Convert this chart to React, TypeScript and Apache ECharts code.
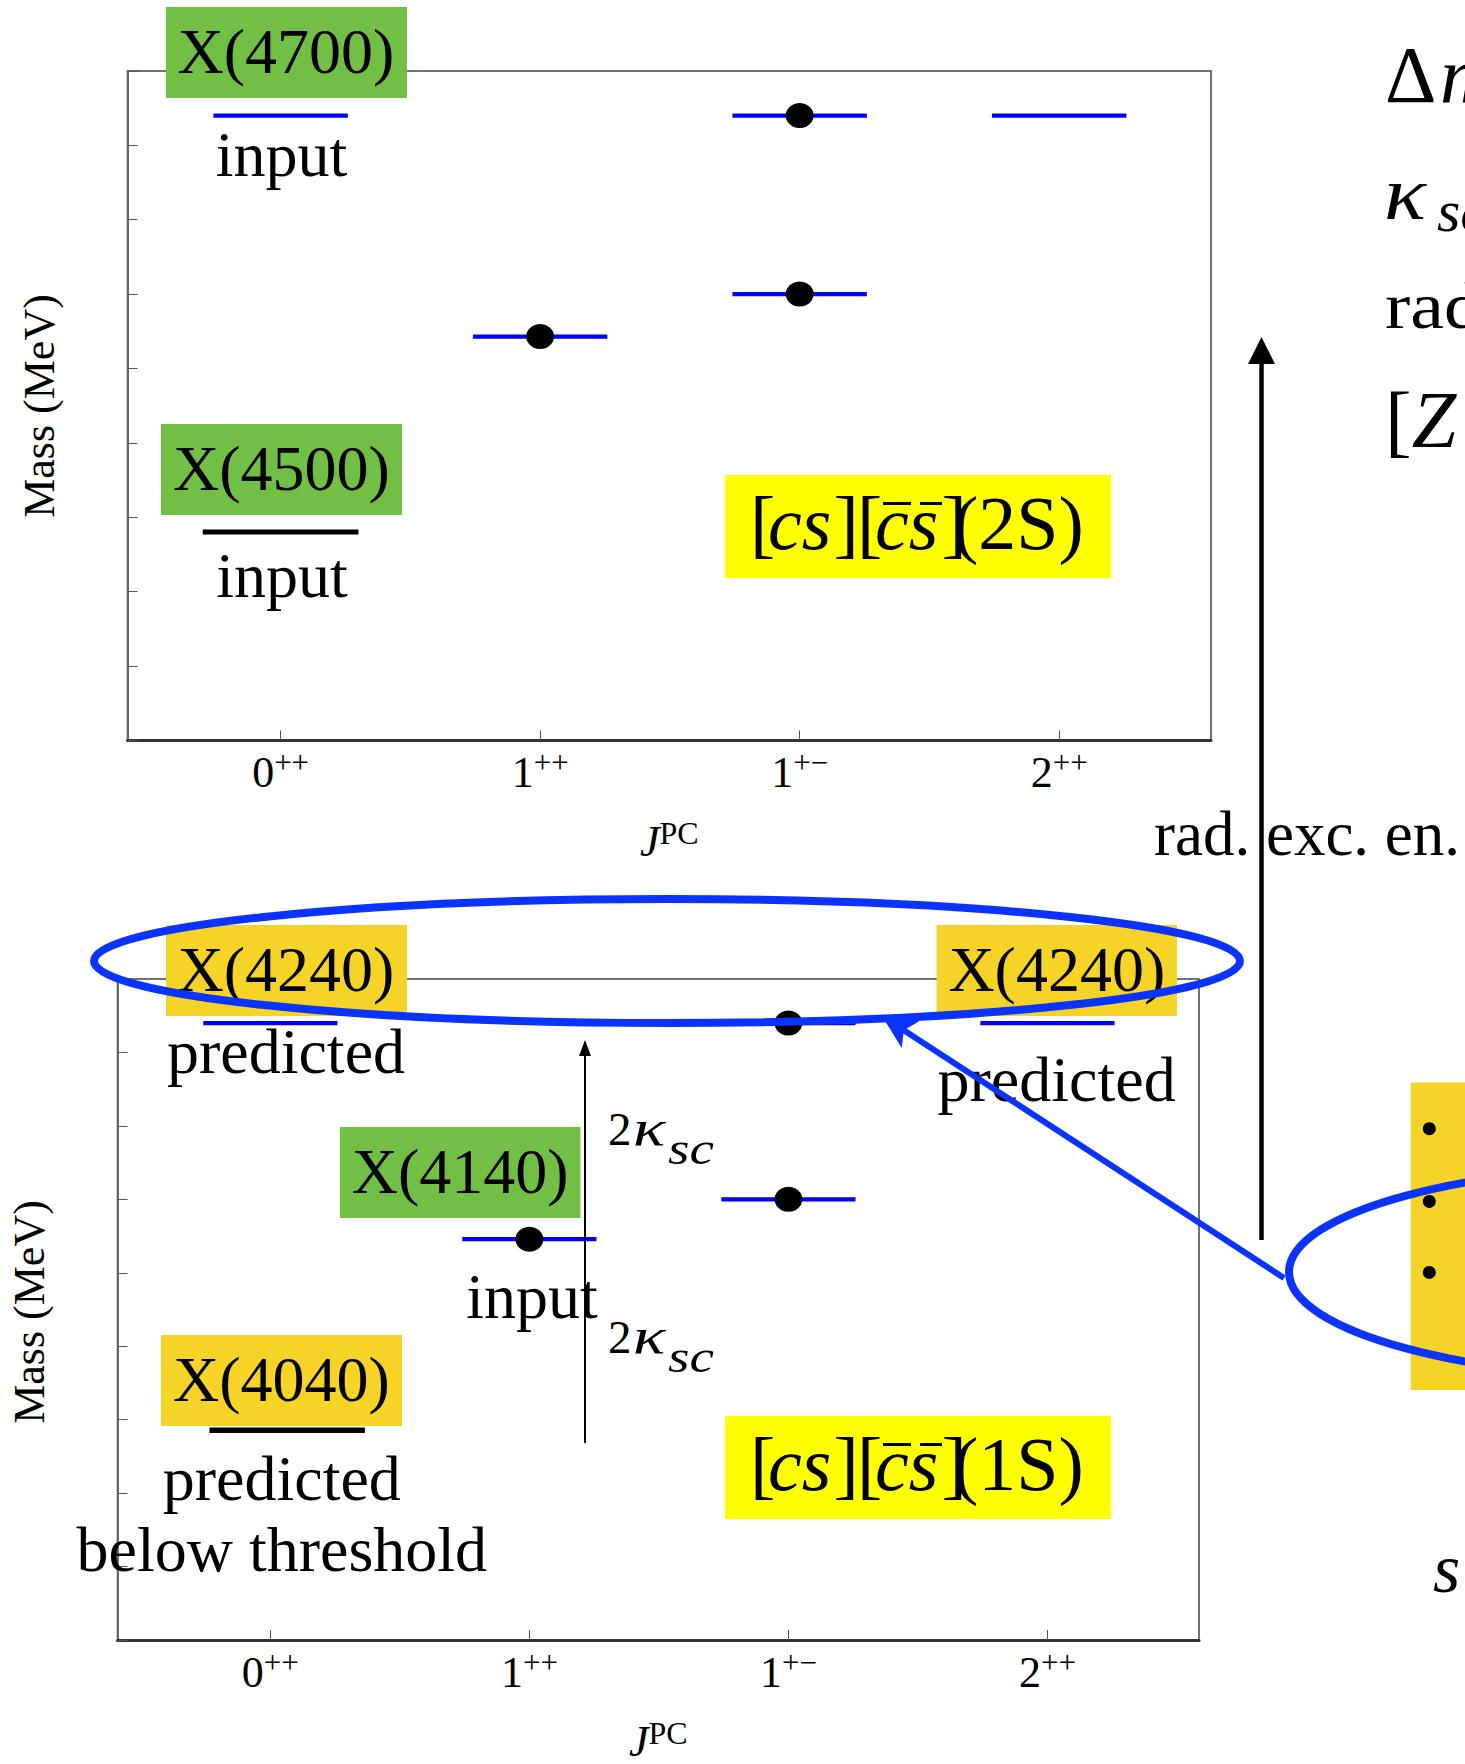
import React, { useEffect, useRef } from 'react';
import * as echarts from 'echarts';

const SERIF = '"Liberation Serif", "Times New Roman", serif';

// J^PC axis
const jpcTicks = [0, 1, 2, 3];
const jpcJ = ['0', '1', '1', '2'];
const jpcPC = ['++', '++', '+−', '++'];

// [cs][cs](2S) panel — masses in MeV
const topBlueX = [0, 1, 2, 2, 3];
const topBlueMass = [4704, 4600, 4704, 4620, 4704];
const topDotX = [1, 2, 2];
const topDotMass = [4600, 4704, 4620];
const topBlackX = [0];
const topBlackMass = [4508];
const topRange = [4410, 4725];

// [cs][cs](1S) panel — masses in MeV
const botBlueX = [0, 1, 2, 2, 3];
const botBlueMass = [4249, 4146, 4249, 4165, 4249];
const botDotX = [1, 2, 2];
const botDotMass = [4146, 4249, 4165];
const botBlackX = [0.065];
const botBlackMass = [4055];
const botRange = [3955, 4270];

const massStep = 35;

const GREEN = '#71BF44';
const GOLD = '#F5D327';
const YELLOW = '#FFFF00';
const LEVEL_BLUE = '#0000FF';
const MARK_BLUE = '#0A33FF';

const txt = (t: string, x: number, baseline: number, size: number, opt: any = {}) => ({
  type: 'text',
  x,
  y: baseline - 0.3375 * size,
  z: opt.z ?? 6,
  rotation: opt.rotation ?? 0,
  scaleX: opt.scaleX ?? 1,
  style: {
    text: t,
    fontSize: size,
    fontFamily: SERIF,
    fontStyle: opt.italic ? 'italic' : 'normal',
    fill: '#000',
    align: opt.align ?? 'center',
    verticalAlign: 'middle',
    rich: opt.rich,
  },
});
const box = (x: number, y: number, w: number, h: number, fill: string) => ({
  type: 'rect',
  shape: { x, y, width: w, height: h },
  style: { fill },
  z: 5,
});
const seg = (x1: number, y1: number, x2: number, y2: number, w: number, color = '#000', z = 7) => ({
  type: 'line',
  shape: { x1, y1, x2, y2 },
  style: { stroke: color, lineWidth: w },
  z,
});

const stateRich = (s: number) => ({
  o: { fontSize: s, fontFamily: SERIF, color: '#000', width: 18 },
  c: { fontSize: s, fontFamily: SERIF, fontStyle: 'italic', color: '#000', width: 65.5 },
  k: { fontSize: s, fontFamily: SERIF, color: '#000', width: 23.5 },
  c2: { fontSize: s, fontFamily: SERIF, fontStyle: 'italic', color: '#000', width: 66.5 },
  k2: { fontSize: s, fontFamily: SERIF, color: '#000', width: 11.5 },
  r: { fontSize: s, fontFamily: SERIF, color: '#000' },
});

const stateLabel = (n: string, dy: number) => {
  const b = 549 + dy;
  const s = 76;
  return [
    box(725, 475 + dy, 386, 103, YELLOW),
    txt(`{o|[}{c|cs}{k|]}{o|[}{c2|cs}{k2|]}{r|(${n}S)}`, 750, b, s, { align: 'left', rich: stateRich(s) }),
    seg(883, 503.5 + dy, 911, 503.5 + dy, 3),
    seg(920, 503.5 + dy, 942, 503.5 + dy, 3),
  ];
};

const kappaLabel = (baseline: number) => [
  txt('2', 608, baseline, 47, { align: 'left' }),
  txt('κ', 633, baseline, 50, { align: 'left', italic: true, scaleX: 1.35 }),
  txt('sc', 668, baseline + 19, 46, { align: 'left', italic: true, scaleX: 1.2 }),
];

const arrowHead = (tipX: number, tipY: number, tailX: number, tailY: number, len: number, half: number, notch: number, color: string, z: number) => {
  const dx = tipX - tailX, dy = tipY - tailY;
  const L = Math.hypot(dx, dy);
  const ux = dx / L, uy = dy / L;
  const nx = -uy, ny = ux;
  const bx = tipX - ux * len, by = tipY - uy * len;
  return {
    type: 'polygon',
    shape: {
      points: [
        [tipX, tipY],
        [bx + nx * half, by + ny * half],
        [tipX - ux * notch, tipY - uy * notch],
        [bx - nx * half, by - ny * half],
      ],
    },
    style: { fill: color },
    z,
  };
};

const levelSeries = (xs: number[], ys: number[], idx: number, color: string, half: number, width: number) => ({
  type: 'custom',
  xAxisIndex: idx,
  yAxisIndex: idx,
  data: xs.map((x, i) => [x, ys[i]]),
  z: 3,
  renderItem: (_p: any, api: any) => {
    const x = api.value(0);
    const y = api.value(1);
    const a = api.coord([x - half, y]);
    const b = api.coord([x + half, y]);
    return {
      type: 'line',
      shape: { x1: a[0], y1: a[1], x2: b[0], y2: b[1] },
      style: { stroke: color, lineWidth: width },
    };
  },
});

const dotSeries = (xs: number[], ys: number[], idx: number) => ({
  type: 'scatter',
  xAxisIndex: idx,
  yAxisIndex: idx,
  data: xs.map((x, i) => [x, ys[i]]),
  symbol: 'circle',
  symbolSize: [28, 25],
  itemStyle: { color: '#000', opacity: 1 },
  z: 4,
});

const xAxisFor = (idx: number) => ({
  type: 'value',
  gridIndex: idx,
  min: -0.59,
  max: 3.585,
  splitLine: { show: false },
  axisLine: { show: true, onZero: false, lineStyle: { color: '#333', width: 3 } },
  axisTick: { show: true, inside: true, length: 10, customValues: jpcTicks, lineStyle: { color: '#555', width: 1 } },
  axisLabel: {
    customValues: jpcTicks,
    margin: 7,
    formatter: (v: number) => {
      const i = jpcTicks.indexOf(Math.round(v));
      return `{n|${jpcJ[i]}}{s|${jpcPC[i]}}`;
    },
    rich: {
      n: { fontSize: 44, fontFamily: SERIF, color: '#000', lineHeight: 50 },
      s: { fontSize: 31, fontFamily: SERIF, color: '#000', verticalAlign: 'top' },
    },
  },
  name: '{j|J}{p|PC}',
  nameLocation: 'middle',
  nameGap: 77,
  nameTextStyle: {
    rich: {
      j: { fontSize: 44, fontFamily: SERIF, fontStyle: 'italic', color: '#000', lineHeight: 48 },
      p: { fontSize: 32, fontFamily: SERIF, color: '#000', verticalAlign: 'top' },
    },
  },
});

const yAxisFor = (idx: number, range: number[]) => ({
  type: 'value',
  gridIndex: idx,
  min: range[0],
  max: range[1],
  interval: massStep,
  splitLine: { show: false },
  axisLabel: { show: false },
  axisLine: { show: true, onZero: false, lineStyle: { color: '#666', width: 2 } },
  axisTick: { show: true, inside: true, length: 10, lineStyle: { color: '#555', width: 1 } },
});

const option: any = {
  animation: false,
  backgroundColor: '#fff',
  grid: [
    { left: 127.5, top: 71, width: 1083.5, height: 669.3, show: true, borderColor: '#444', borderWidth: 1.5 },
    { left: 117.5, top: 979, width: 1081.5, height: 668.7, show: true, borderColor: '#444', borderWidth: 1.5 },
  ],
  xAxis: [xAxisFor(0), xAxisFor(1)],
  yAxis: [yAxisFor(0, topRange), yAxisFor(1, botRange)],
  series: [
    levelSeries(topBlueX, topBlueMass, 0, LEVEL_BLUE, 0.259, 4.3),
    levelSeries(topBlackX, topBlackMass, 0, '#000', 0.3, 5),
    dotSeries(topDotX, topDotMass, 0),
    levelSeries(botBlueX, botBlueMass, 1, LEVEL_BLUE, 0.259, 4.3),
    levelSeries(botBlackX, botBlackMass, 1, '#000', 0.3, 5.5),
    dotSeries(botDotX, botDotMass, 1),
  ],
  graphic: {
    elements: [
      // y-axis titles
      txt('Mass (MeV)', 39, 406 + 0.3375 * 44, 44, { rotation: Math.PI / 2 }),
      txt('Mass (MeV)', 29, 1312 + 0.3375 * 44, 44, { rotation: Math.PI / 2 }),

      // top panel labels
      box(166, 7, 241, 91, GREEN),
      txt('X(4700)', 286, 73, 64),
      txt('input', 281.5, 176, 64),
      box(161, 424, 241, 91, GREEN),
      txt('X(4500)', 281.5, 490, 64),
      txt('input', 282, 597, 64),
      ...stateLabel('2', 0),

      // bottom panel labels
      box(166, 925, 241, 91, GOLD),
      txt('X(4240)', 286, 991, 64),
      txt('predicted', 286, 1073, 64),
      box(936.6, 925, 240.4, 91, GOLD),
      txt('X(4240)', 1056.8, 991, 64),
      txt('predicted', 1056.6, 1101.5, 64),
      box(340, 1127, 240.5, 91, GREEN),
      txt('X(4140)', 460.2, 1193, 64),
      txt('input', 532, 1318, 64),
      box(161, 1335, 241, 91, GOLD),
      txt('X(4040)', 281.5, 1401, 64),
      txt('predicted', 281.8, 1500, 64),
      txt('below threshold', 281.8, 1571, 64),
      ...stateLabel('1', 941),

      // 2 kappa_sc steps
      seg(585, 1054, 585, 1443, 2),
      arrowHead(585, 1040, 585, 1443, 16, 6, 16, '#000', 7),
      ...kappaLabel(1145),
      ...kappaLabel(1353),

      // radial excitation arrow
      seg(1261.5, 360, 1261.5, 1240, 4.5),
      arrowHead(1261.5, 337, 1261.5, 1240, 27, 13.5, 27, '#000', 7),
      txt('rad. exc. en.', 1154, 855, 63, { align: 'left', z: 4 }),

      // right-hand text (cut by the page edge)
      txt('Δ', 1385, 102, 80, { align: 'left' }),
      txt('m', 1440, 102, 80, { align: 'left', italic: true }),
      txt('κ', 1384, 219, 76, { align: 'left', italic: true, scaleX: 1.15 }),
      txt('sc', 1437, 231, 60, { align: 'left', italic: true }),
      txt('rad.', 1385, 328, 66, { align: 'left', scaleX: 1.15 }),
      txt('{a|[}{b|Z}', 1385, 447, 80, {
        align: 'left',
        rich: {
          a: { fontSize: 80, fontFamily: SERIF, color: '#000' },
          b: { fontSize: 80, fontFamily: SERIF, fontStyle: 'italic', color: '#000' },
        },
      }),
      txt('s', 1433, 1592, 70, { align: 'left', italic: true }),

      // right box with bullets
      box(1410.7, 1082.5, 60, 307.5, GOLD),
      { type: 'circle', shape: { cx: 1429.3, cy: 1128.7, r: 6.5 }, style: { fill: '#000' }, z: 6 },
      { type: 'circle', shape: { cx: 1429.3, cy: 1201.4, r: 6.5 }, style: { fill: '#000' }, z: 6 },
      { type: 'circle', shape: { cx: 1429.3, cy: 1272.4, r: 6.5 }, style: { fill: '#000' }, z: 6 },

      // highlight ellipses and pointer
      { type: 'ellipse', shape: { cx: 667, cy: 961, rx: 573, ry: 62 }, style: { fill: 'none', stroke: MARK_BLUE, lineWidth: 8 }, z: 30 },
      { type: 'ellipse', shape: { cx: 1689, cy: 1272, rx: 400, ry: 108 }, style: { fill: 'none', stroke: MARK_BLUE, lineWidth: 8 }, z: 30 },
      seg(1284, 1278, 903.8, 1030.2, 6, MARK_BLUE, 31),
      arrowHead(882, 1016, 1284, 1278, 34, 16, 26, MARK_BLUE, 31),
    ],
  },
};

export default function App() {
  const ref = useRef<HTMLDivElement>(null);
  useEffect(() => {
    const chart = echarts.init(ref.current!, null, { renderer: 'svg' });
    chart.setOption(option);
    return () => chart.dispose();
  }, []);
  return (
    <div
      ref={ref}
      style={{ position: 'absolute', left: 0, top: 0, width: 1465, height: 1764, background: '#fff' }}
    />
  );
}
